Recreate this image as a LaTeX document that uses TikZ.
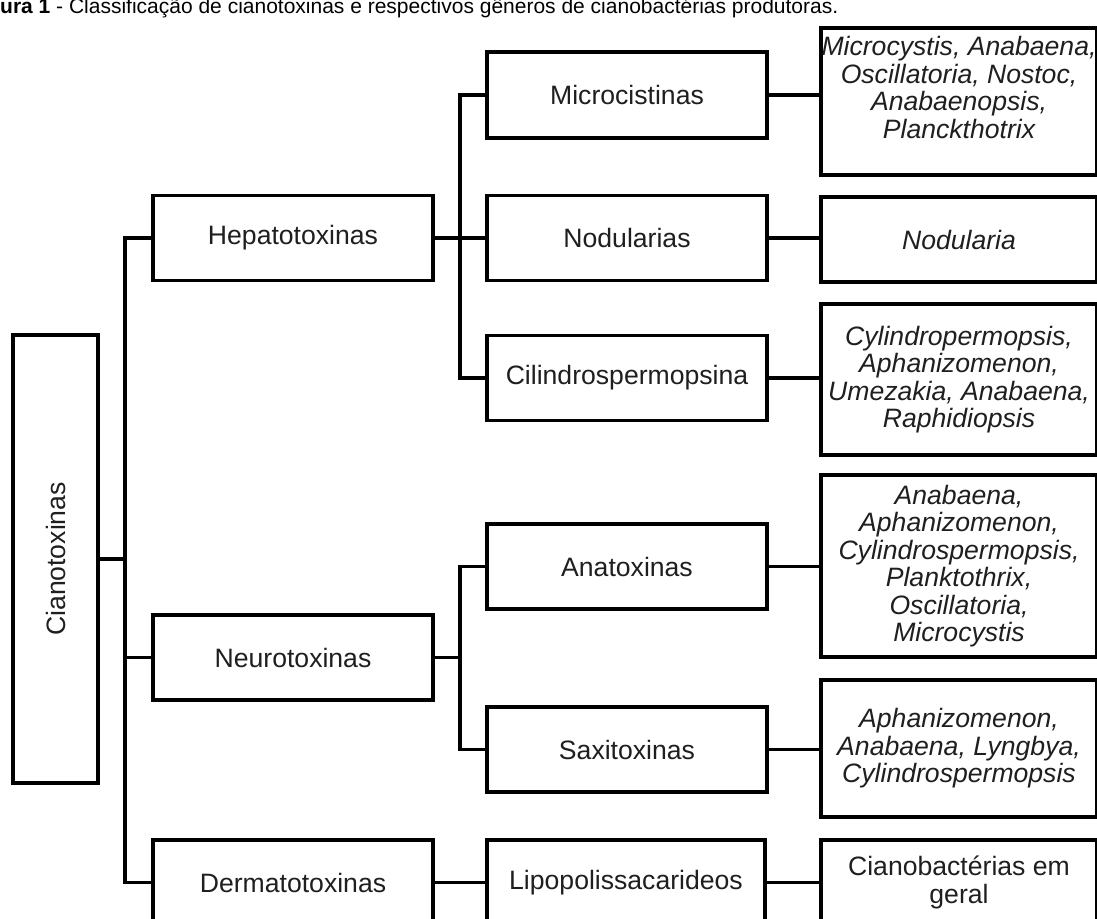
\documentclass[tikz,border=0pt]{standalone}
\usepackage{fontspec}
\setmainfont{Liberation Sans}
\begin{document}
\begin{tikzpicture}[x=1pt,y=-1pt,
  box/.style={draw=black, line width=3.2pt, inner sep=0pt, align=center,
    text=black!88, font=\fontsize{26.6}{27.5}\selectfont},
  gen/.style={box, font=\fontsize{26.6}{27.5}\selectfont\itshape},
  conn/.style={draw=black, line width=3.2pt}]
\useasboundingbox (0,0) rectangle (1097,918);
\clip (0,0) rectangle (1097,918);
\fill[white] (0,0) rectangle (1097,918);

% caption
\node[anchor=base west, inner sep=0pt, text=black, font=\fontsize{21}{25}\selectfont] (cap) at (0,13)
  {\textbf{ura 1} - Classificação de cianotoxinas e respectivos gêneros de cianobactérias produtoras.};

% level 1
\node[box, minimum width=85pt, minimum height=448pt] (cia) at (55.5,559) {\rotatebox{90}{Cianotoxinas}};

% level 2
\node[box, minimum width=280pt, minimum height=85pt] (hep) at (293,238) {Hepatotoxinas};
\node[box, minimum width=280pt, minimum height=85pt] (neu) at (293,657.5) {Neurotoxinas};
\node[box, minimum width=280pt, minimum height=85pt] (der) at (293,882.5) {Dermatotoxinas};

% level 3
\node[box, minimum width=280pt, minimum height=86pt] (mic) at (627,95) {Microcistinas};
\node[box, minimum width=280pt, minimum height=85pt] (nod) at (627,238) {Nodularias};
\node[box, minimum width=280pt, minimum height=85pt] (cil) at (627,378) {Cilindrospermopsina};
\node[box, minimum width=280pt, minimum height=85pt] (ana) at (627,566.5) {Anatoxinas};
\node[box, minimum width=280pt, minimum height=85pt] (sax) at (627,749.5) {Saxitoxinas};
\node[box, minimum width=278pt, minimum height=85pt] (lip) at (626,882.5) {Lipopolissacarideos};

% level 4
\node[box, minimum width=276pt, minimum height=147pt] (mcb) at (959,101.5) {};
\node[inner sep=0pt, align=center, text=black!88, font=\fontsize{26.6}{27.5}\selectfont\itshape] (mct) at (959,87.5)
  {Microcystis, Anabaena,\\Oscillatoria, Nostoc,\\Anabaenopsis,\\Planckthotrix};
\node[gen, minimum width=276pt, minimum height=85pt] (ndb) at (959,239.5) {Nodularia};
\node[gen, minimum width=276pt, minimum height=151pt] (cyb) at (959,379.5)
  {Cylindropermopsis,\\Aphanizomenon,\\Umezakia, Anabaena,\\Raphidiopsis};
\node[gen, minimum width=276pt, minimum height=182pt] (anb) at (959,566)
  {Anabaena,\\Aphanizomenon,\\Cylindrospermopsis,\\Planktothrix,\\Oscillatoria,\\Microcystis};
\node[gen, minimum width=276pt, minimum height=137pt] (sxb) at (959,748.5)
  {Aphanizomenon,\\Anabaena, Lyngbya,\\Cylindrospermopsis};
\node[box, minimum width=276pt, minimum height=85pt] (cbb) at (959,882.5)
  {Cianobactérias em\\geral};

% connectors
\coordinate (tr) at (125,0);
\coordinate (hb) at (460,0);
\draw[conn] (hep.west) -- (hep.west -| tr) -- (der.west -| tr) -- (der.west);
\draw[conn] (neu.west) -- (neu.west -| tr);
\draw[conn] (cia.east) -- (cia.east -| tr);

\draw[conn] (mic.west) -- (mic.west -| hb) -- (cil.west -| hb) -- (cil.west);
\draw[conn] (hep.east) -- (hep.east -| hb);
\draw[conn] (nod.west) -- (nod.west -| hb);

\draw[conn] (ana.west) -- (ana.west -| hb) -- (sax.west -| hb) -- (sax.west);
\draw[conn] (neu.east) -- (neu.east -| hb);

\draw[conn] (der.east) -- (lip.west);
\draw[conn] (lip.east) -- (lip.east -| cbb.west);

\draw[conn] (mic.east) -- (mic.east -| mcb.west);
\draw[conn] (nod.east) -- (nod.east -| ndb.west);
\draw[conn] (cil.east) -- (cil.east -| cyb.west);
\draw[conn] (ana.east) -- (ana.east -| anb.west);
\draw[conn] (sax.east) -- (sax.east -| sxb.west);
\end{tikzpicture}
\end{document}
